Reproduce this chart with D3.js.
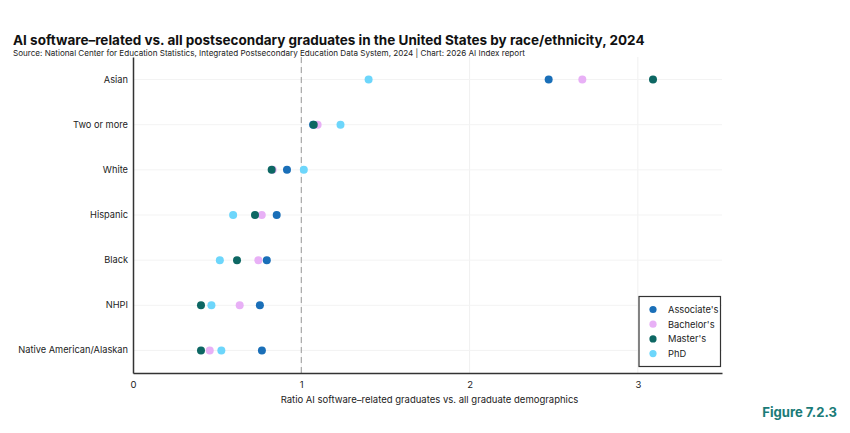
<!DOCTYPE html>
<html><head><meta charset="utf-8">
<script src="https://cdn.jsdelivr.net/npm/d3@7"></script>
<style>
html,body{margin:0;padding:0;background:#fff;}
svg{display:block;font-family:Inter, "Liberation Sans", sans-serif;}
</style></head>
<body><svg id="c" width="850" height="433"></svg>
<script>
const categories = ["Asian","Two or more","White","Hispanic","Black","NHPI","Native American/Alaskan"];
const seriesNames = ["Associate's","Bachelor's","Master's","PhD"];
const associates = [2.47, 1.07, 0.915, 0.854, 0.795, 0.754, 0.766];
const bachelors  = [2.67, 1.097, 0.83, 0.765, 0.745, 0.634, 0.456];
const masters    = [3.09, 1.074, 0.824, 0.725, 0.618, 0.404, 0.404];
const phd        = [1.40, 1.233, 1.015, 0.595, 0.516, 0.466, 0.525];
const xTicks = [0, 1, 2, 3];
const colors = ["#1a6fb8", "#e8b0f6", "#0d6763", "#6dd6fb"];

const seriesValues = [associates, bachelors, masters, phd];
const svg = d3.select("#c");
const m = {l:133, r:722, t:57, b:373};
const x = d3.scaleLinear().domain([0, 3.5]).range([m.l, m.r]);
const y = d3.scaleBand().domain(categories).range([m.t, m.b]);
const color = d3.scaleOrdinal().domain(seriesNames).range(colors);

// title
svg.append("text").attr("x", 13).attr("y", 45).attr("font-size", 13.5).attr("font-weight", 700)
  .attr("fill", "#111").text("AI software–related vs. all postsecondary graduates in the United States by race/ethnicity, 2024");
svg.append("text").attr("x", 13).attr("y", 55.5).attr("font-size", 8.1).attr("fill", "#222")
  .text("Source: National Center for Education Statistics, Integrated Postsecondary Education Data System, 2024 | Chart: 2026 AI Index report");

// gridlines
const g = svg.append("g");
g.selectAll(".vg").data(xTicks.slice(1)).join("line")
  .attr("x1", d => x(d)).attr("x2", d => x(d)).attr("y1", m.t).attr("y2", m.b)
  .attr("stroke", "#f0f0f0").attr("stroke-width", 1);
g.selectAll(".hg").data(categories).join("line")
  .attr("x1", m.l).attr("x2", m.r).attr("y1", d => y(d) + y.bandwidth()/2).attr("y2", d => y(d) + y.bandwidth()/2)
  .attr("stroke", "#f3f3f3").attr("stroke-width", 1);

// reference line at 1
svg.append("line").attr("x1", x(1)).attr("x2", x(1)).attr("y1", m.t).attr("y2", m.b)
  .attr("stroke", "#9a9a9a").attr("stroke-width", 1).attr("stroke-dasharray", "6,4");

// axes
const xAxis = svg.append("g").attr("transform", `translate(0,${m.b})`)
  .call(d3.axisBottom(x).tickValues(xTicks).tickFormat(d3.format("d")).tickSize(0).tickPadding(8));
xAxis.select(".domain").attr("stroke", "#333").attr("stroke-width", 1.5);
xAxis.selectAll("text").attr("font-size", 9.5).attr("fill", "#222").attr("font-family", "Inter, sans-serif");

const yAxis = svg.append("g").attr("transform", `translate(${m.l},0)`)
  .call(d3.axisLeft(y).tickSize(0).tickPadding(5));
yAxis.select(".domain").attr("stroke", "#333").attr("stroke-width", 1.5);
yAxis.selectAll("text").attr("font-size", 9.25).attr("fill", "#222").attr("font-family", "Inter, sans-serif");

svg.append("text").attr("x", (m.l + m.r)/2 + 2).attr("y", 403).attr("text-anchor", "middle")
  .attr("font-size", 9.5).attr("fill", "#222").text("Ratio AI software–related graduates vs. all graduate demographics");

// dots
seriesNames.forEach((s, i) => {
  svg.append("g").selectAll("circle").data(categories).join("circle")
    .attr("cx", (c, j) => x(seriesValues[i][j]))
    .attr("cy", c => y(c) + y.bandwidth()/2)
    .attr("r", 4).attr("fill", color(s));
});

// legend
const lg = svg.append("g");
lg.append("rect").attr("x", 639).attr("y", 296.5).attr("width", 81.5).attr("height", 70)
  .attr("fill", "#fff").attr("stroke", "#333").attr("stroke-width", 1.2);
seriesNames.forEach((s, i) => {
  const yy = 309.5 + i * 14.7;
  lg.append("circle").attr("cx", 653).attr("cy", yy).attr("r", 3.6).attr("fill", color(s));
  lg.append("text").attr("x", 668).attr("y", yy + 3.3).attr("font-size", 9.3).attr("fill", "#222").text(s);
});

// figure label
svg.append("text").attr("x", 837).attr("y", 417).attr("text-anchor", "end").attr("font-size", 13.1)
  .attr("font-weight", 700).attr("fill", "#1a7b78").text("Figure 7.2.3");
</script></body></html>
